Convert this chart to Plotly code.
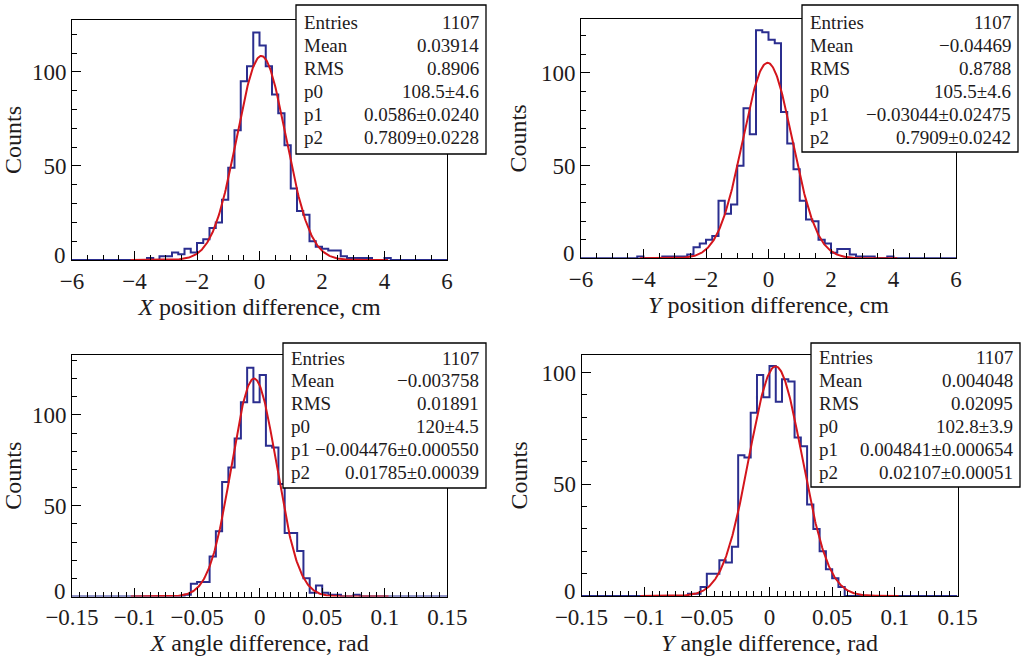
import numpy as np
import plotly.graph_objects as go

# ---------------- data ----------------
N_BINS = 60
pos_range = (-6.0, 6.0)
ang_range = (-0.15, 0.15)

x_pos_counts = [0]*12 + [1, 0, 2, 2, 4, 3, 6, 4, 9, 11, 17, 20, 32, 49, 69, 95, 103, 121, 114, 103,
                         88, 78, 61, 38, 26, 24, 10, 7, 6, 5, 5, 2, 1, 1, 1, 1, 0, 0, 1] + [0]*9
y_pos_counts = [0]*9 + [1, 0, 0, 0, 1, 1, 1, 1, 2, 6, 8, 10, 12, 31, 24, 29, 50, 81, 67, 123,
                        122, 118, 116, 79, 62, 48, 31, 21, 20, 10, 8, 3, 5, 5, 2, 1, 1, 1, 0, 0, 1] + [0]*10
x_ang_counts = [0]*18 + [1, 7, 8, 8, 22, 36, 63, 71, 87, 107, 126, 107, 122, 83, 82, 62, 35, 35, 25, 10,
                         2, 6, 2, 1, 1, 0, 0, 1] + [0]*14
y_ang_counts = [0]*17 + [1, 1, 4, 10, 10, 16, 15, 22, 63, 62, 82, 99, 89, 103, 87, 97, 96, 71, 67, 41,
                         30, 20, 12, 8, 4] + [0]*18

# Gaussian fit parameters (p0, p1, p2) as printed in the stats boxes
fit_x_pos = (108.5, 0.0586, 0.7809)
fit_y_pos = (105.5, -0.03044, 0.7909)
fit_x_ang = (120.0, -0.004476, 0.01785)
fit_y_ang = (102.8, 0.004841, 0.02107)
fit_span_pos = (-4.12, 4.12)
fit_span_ang = (-0.103, 0.103)

stat_labels = ["Entries", "Mean", "RMS", "p0", "p1", "p2"]
stats_x_pos = ["1107", "0.03914", "0.8906", "108.5\u00b14.6", "0.0586\u00b10.0240", "0.7809\u00b10.0228"]
stats_y_pos = ["1107", "\u22120.04469", "0.8788", "105.5\u00b14.6", "\u22120.03044\u00b10.02475", "0.7909\u00b10.0242"]
stats_x_ang = ["1107", "\u22120.003758", "0.01891", "120\u00b14.5", "\u22120.004476\u00b10.000550", "0.01785\u00b10.00039"]
stats_y_ang = ["1107", "0.004048", "0.02095", "102.8\u00b13.9", "0.004841\u00b10.000654", "0.02107\u00b10.00051"]

x_titles = ["<i>X</i> position difference, cm", "<i>Y</i> position difference, cm",
            "<i>X</i> angle difference, rad", "<i>Y</i> angle difference, rad"]
y_title = "Counts"
y_tick_values = [50, 100]

# ---------------- layout geometry (pixels) ----------------
W, H = 1024, 656
FONT = "Liberation Serif, Times New Roman, serif"
TXT = "#1e1b1c"
HIST_COLOR = "#2b2e8f"
FIT_COLOR = "#d4151c"
TICK_FS = 23
TITLE_FS = 24
STAT_FS = 19

panels = [
    dict(counts=x_pos_counts, rng=pos_range, fit=fit_x_pos, span=fit_span_pos, stats=stats_x_pos,
         frame=(72, 447, 20, 260), ymax=127.6, dtick=2, minor=0.5, box=(296, 486, 5, 154), row0=23),
    dict(counts=y_pos_counts, rng=pos_range, fit=fit_y_pos, span=fit_span_pos, stats=stats_y_pos,
         frame=(581, 956, 18.5, 258.3), ymax=129.4, dtick=2, minor=0.5, box=(802, 1018, 5, 152), row0=22.5),
    dict(counts=x_ang_counts, rng=ang_range, fit=fit_x_ang, span=fit_span_ang, stats=stats_x_ang,
         frame=(72, 447.3, 355, 596.5), ymax=133.0, dtick=0.05, minor=0.00625, box=(283, 486, 343, 488), row0=358),
    dict(counts=y_ang_counts, rng=ang_range, fit=fit_y_ang, span=fit_span_ang, stats=stats_y_ang,
         frame=(581.5, 957.5, 355, 596), ymax=107.9, dtick=0.05, minor=0.00625, box=(811, 1020, 343, 487), row0=357.5),
]

fig = go.Figure()
shapes = []
annotations = []

for i, p in enumerate(panels):
    idx = "" if i == 0 else str(i + 1)
    xa, ya = "x" + idx, "y" + idx
    lo, hi = p["rng"]
    edges = np.linspace(lo, hi, N_BINS + 1)
    counts = list(p["counts"])
    xs = list(edges)
    ys = counts + [counts[-1]]
    fig.add_trace(go.Scatter(x=xs, y=ys, mode="lines", line=dict(color=HIST_COLOR, width=2, shape="hv"),
                             xaxis=xa, yaxis=ya, showlegend=False, cliponaxis=False, hoverinfo="skip"))
    a, mu, sg = p["fit"]
    fx = np.linspace(p["span"][0], p["span"][1], 400)
    fy = a * np.exp(-0.5 * ((fx - mu) / sg) ** 2)
    fig.add_trace(go.Scatter(x=fx, y=fy, mode="lines", line=dict(color=FIT_COLOR, width=2),
                             xaxis=xa, yaxis=ya, showlegend=False, cliponaxis=False, hoverinfo="skip"))

    fx0, fx1, fy0, fy1 = p["frame"]
    axis_common = dict(showgrid=False, zeroline=False, showline=True, linecolor="black", linewidth=1,
                       mirror=True, ticks="inside", tickcolor="black", tickwidth=1, automargin=False,
                       tickfont=dict(family=FONT, size=TICK_FS, color=TXT))
    fig.layout["xaxis" + idx] = dict(
        axis_common, domain=[fx0 / W, fx1 / W], range=[lo, hi], anchor=ya,
        tick0=0, dtick=p["dtick"], ticklen=9,
        minor=dict(dtick=p["minor"], ticklen=5, ticks="inside", tickcolor="black", tickwidth=1),
        title=dict(text=x_titles[i], font=dict(family=FONT, size=TITLE_FS, color=TXT), standoff=4),
    )
    fig.layout["yaxis" + idx] = dict(
        axis_common, domain=[1 - fy1 / H, 1 - fy0 / H], range=[0, p["ymax"]], anchor=xa,
        tickmode="array", tickvals=y_tick_values, ticklen=9,
        minor=dict(tick0=0, dtick=10, ticklen=5, ticks="inside", tickcolor="black", tickwidth=1),
        title=dict(text=y_title, font=dict(family=FONT, size=TITLE_FS, color=TXT), standoff=7),
    )
    # the lowest y label "0" sits a little above the corner, as in the original
    annotations.append(dict(xref=xa, yref=ya, x=lo, y=0, text="0", showarrow=False,
                            xanchor="right", yanchor="middle", xshift=-4, yshift=5,
                            font=dict(family=FONT, size=TICK_FS, color=TXT)))

    bx0, bx1, by0, by1 = p["box"]
    shapes.append(dict(type="rect", xref="paper", yref="paper", x0=bx0 / W, x1=bx1 / W,
                       y0=1 - by1 / H, y1=1 - by0 / H, line=dict(color="black", width=1.3),
                       fillcolor="white", layer="above"))
    for r, (lab, val) in enumerate(zip(stat_labels, p["stats"])):
        yy = p["row0"] + 22.9 * r
        annotations.append(dict(xref="paper", yref="paper", x=(bx0 + 6) / W, y=1 - yy / H, text=lab,
                                showarrow=False, xanchor="left", yanchor="middle",
                                font=dict(family=FONT, size=STAT_FS, color=TXT)))
        annotations.append(dict(xref="paper", yref="paper", x=(bx1 - 5) / W, y=1 - yy / H, text=val,
                                showarrow=False, xanchor="right", yanchor="middle",
                                font=dict(family=FONT, size=STAT_FS, color=TXT)))

fig.update_layout(width=W, height=H, margin=dict(l=0, r=0, t=0, b=0),
                  paper_bgcolor="white", plot_bgcolor="white",
                  shapes=shapes, annotations=annotations, showlegend=False)

fig.write_html("out.html")
